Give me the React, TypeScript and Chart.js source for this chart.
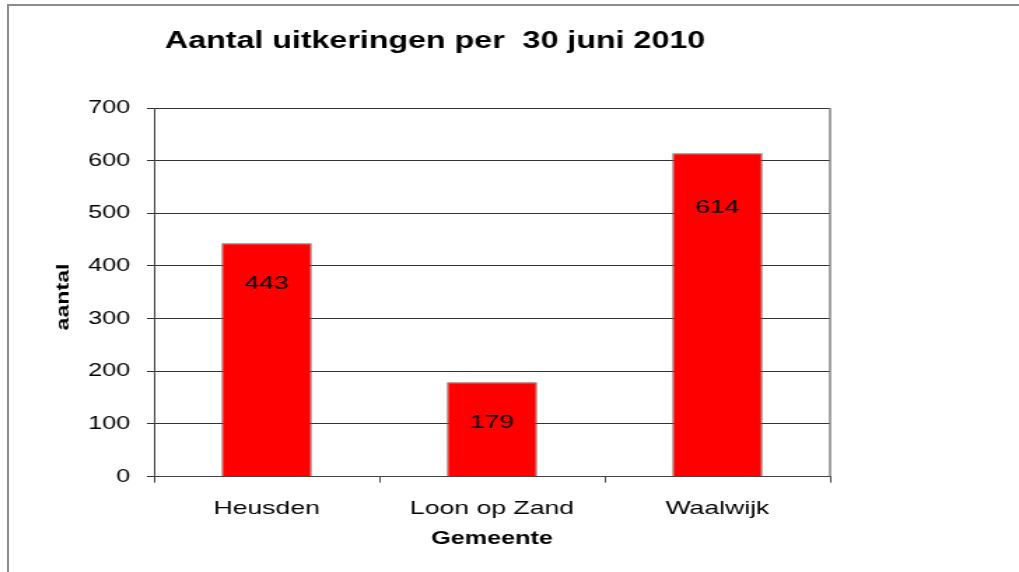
import React, { useEffect, useRef } from "react";
import { Chart, registerables } from "chart.js";

Chart.register(...registerables);

// ---- data ----
const categories = ["Heusden", "Loon op Zand", "Waalwijk"];
const values = [443, 179, 614];
const yTickValues = [0, 100, 200, 300, 400, 500, 600, 700];
const chartTitle = "Aantal uitkeringen per  30 juni 2010";
const xAxisTitle = "Gemeente";
const yAxisTitle = "aantal";

// ---- rendering setup (canvas is stretched horizontally by CSS, like the reference) ----
const SCREEN_W = 1019;
const SCREEN_H = 572;
const CANVAS_W = 728;
const SX = SCREEN_W / CANVAS_W;
const FONT = '"Liberation Sans", Arial, Helvetica, sans-serif';

const plotBorder = {
  id: "plotBorder",
  afterDatasetsDraw(chart: any, _args: any, opts: any) {
    const { ctx, chartArea: a } = chart;
    ctx.save();
    ctx.strokeStyle = opts.color;
    ctx.lineWidth = opts.width;
    ctx.beginPath();
    ctx.moveTo(a.right, a.top);
    ctx.lineTo(a.right, a.bottom);
    ctx.stroke();
    ctx.restore();
  },
};

const barLabels = {
  id: "barLabels",
  afterDatasetsDraw(chart: any, _args: any, opts: any) {
    const meta = chart.getDatasetMeta(0);
    const ctx = chart.ctx;
    ctx.save();
    ctx.font = opts.font;
    ctx.fillStyle = opts.color;
    ctx.textAlign = "center";
    ctx.textBaseline = "middle";
    meta.data.forEach((bar: any, i: number) => {
      const v = chart.data.datasets[0].data[i];
      ctx.fillText(String(v), bar.x, bar.y + opts.offsets[i]);
    });
    ctx.restore();
  },
};

const textTitles = {
  id: "textTitles",
  afterDraw(chart: any, _args: any, opts: any) {
    const ctx = chart.ctx;
    ctx.save();
    ctx.fillStyle = "#000";
    ctx.textAlign = "center";
    ctx.textBaseline = "middle";
    ctx.font = `bold 23px ${FONT}`;
    ctx.fillText(opts.title, opts.titleX, opts.titleY);
    ctx.restore();

    ctx.save();
    ctx.fillStyle = "#000";
    ctx.textAlign = "center";
    ctx.textBaseline = "middle";
    ctx.font = `bold 19px ${FONT}`;
    ctx.translate(opts.yTitleX, opts.yTitleY);
    ctx.scale(1 / SX, 1);
    ctx.rotate(-Math.PI / 2);
    ctx.scale(1.22, 1);
    ctx.fillText(opts.yTitle, 0, 0);
    ctx.restore();
  },
};

export default function App() {
  const ref = useRef<HTMLCanvasElement | null>(null);

  useEffect(() => {
    if (!ref.current) return;
    const chart = new Chart(ref.current, {
      type: "bar",
      data: {
        labels: categories,
        datasets: [
          {
            data: values,
            backgroundColor: "#FF0000",
            borderColor: "#606060",
            borderWidth: 1,
            barPercentage: 0.4,
            categoryPercentage: 1,
          },
        ],
      },
      plugins: [plotBorder, barLabels, textTitles],
      options: {
        responsive: false,
        maintainAspectRatio: false,
        devicePixelRatio: 1,
        animation: false,
        layout: { padding: { left: 30, right: 135, top: 108, bottom: 22 } },
        plugins: {
          legend: { display: false },
          tooltip: { enabled: false },
          title: { display: false },
          plotBorder: { color: "#7a7a7a", width: 1.4 },
          barLabels: { font: `19px ${FONT}`, color: "#000", offsets: [40, 40, 54] },
          textTitles: {
            title: chartTitle,
            titleX: 435 / SX,
            titleY: 42,
            yTitle: yAxisTitle,
            yTitleX: 63 / SX,
            yTitleY: 297,
          },
        } as any,
        scales: {
          x: {
            offset: true,
            grid: {
              display: true,
              drawOnChartArea: false,
              drawTicks: true,
              tickLength: 6,
              color: "#444",
              offset: true,
            },
            border: { display: true, color: "#444", width: 1 },
            ticks: {
              color: "#000",
              font: { family: FONT, size: 19 },
              padding: 15,
              maxRotation: 0,
            },
            title: {
              display: true,
              text: xAxisTitle,
              color: "#000",
              font: { family: FONT, size: 18, weight: "bold" },
              padding: { top: -7, bottom: 0 },
            },
          },
          y: {
            min: 0,
            max: 700,
            afterBuildTicks: (scale: any) => {
              scale.ticks = yTickValues.map((v) => ({ value: v }));
            },
            afterFit: (scale: any) => {
              scale.width = 80;
            },
            grid: {
              color: "#333",
              lineWidth: 1,
              drawTicks: true,
              tickLength: 5,
            },
            border: { display: true, color: "#444", width: 1 },
            ticks: {
              color: "#000",
              font: { family: FONT, size: 18 },
              padding: 12,
            },
          },
        },
      },
    });
    return () => chart.destroy();
  }, []);

  return (
    <div
      style={{
        position: "absolute",
        left: 0,
        top: 0,
        width: SCREEN_W,
        height: SCREEN_H,
        background: "#fff",
        overflow: "hidden",
      }}
    >
      <canvas
        ref={ref}
        width={CANVAS_W}
        height={SCREEN_H}
        style={{
          position: "absolute",
          left: 0,
          top: 0,
          width: SCREEN_W + "px",
          height: SCREEN_H + "px",
          display: "block",
        }}
      />
      <div style={{ position: "absolute", left: 7, top: 4, width: 2, height: SCREEN_H - 4, background: "#8c8c8c" }} />
      <div style={{ position: "absolute", left: 7, top: 4, width: SCREEN_W - 7, height: 2, background: "#8c8c8c" }} />
    </div>
  );
}
